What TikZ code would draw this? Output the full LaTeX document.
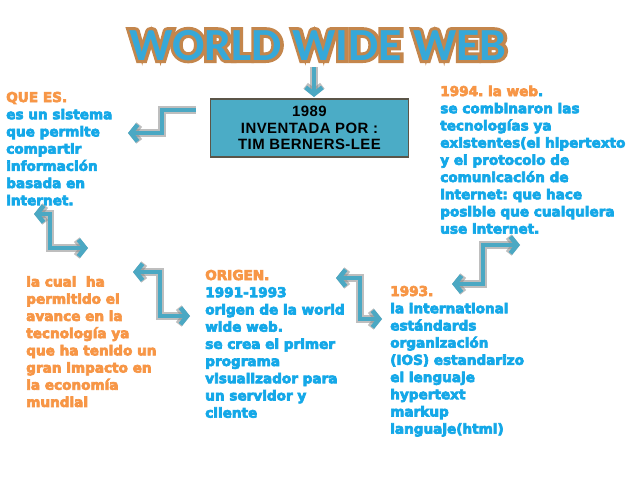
\documentclass[tikz,border=0pt]{standalone}
\usepackage{fontspec}
\usetikzlibrary{arrows.meta}
\newfontfamily\bodyfont{DejaVu Sans Bold}[FakeBold=5]
\newfontfamily\boxfont{Liberation Sans Bold}[LetterSpace=3]
\newfontfamily\titlefont{Carlito Bold}
\newfontfamily\titleoutlinefont{Carlito Bold}[FakeBold=13]
\definecolor{torange}{HTML}{F79646}
\definecolor{tblue}{HTML}{14A8E8}
\definecolor{ttitle}{HTML}{36A8D8}
\definecolor{toutline}{HTML}{C4864C}
\definecolor{boxfill}{HTML}{4BACC6}
\definecolor{boxline}{HTML}{5B5548}
\definecolor{ateal}{HTML}{4BA8C3}
\definecolor{ashadow}{HTML}{8A8A8A}
\frenchspacing
\begin{document}
\begin{tikzpicture}[x=0.75pt,y=-0.75pt,
  txt/.style={anchor=base west, align=left, inner sep=0pt,
    font=\bodyfont\fontsize{10.2}{12.9}\selectfont\frenchspacing, text=tblue},
  arrowback/.style={draw=ashadow, line width=5.4pt, opacity=.55},
  arrowfront/.style={draw=ateal, line width=3.4pt, preaction={arrowback}},
  onehead/.style={-{Straight Barb[length=5pt,width=12.5pt]}},
  twohead/.style={{Straight Barb[length=5pt,width=12.5pt]}-{Straight Barb[length=5pt,width=12.5pt]}}]
\fill[white] (0,0) rectangle (638,479);
\useasboundingbox (0,0) rectangle (638,479);

% title
\node[anchor=base, inner sep=0pt, xscale=1.04, text=ttitle,
  font=\titlefont\fontsize{34.5}{40}\selectfont] (title) at (318,60)
  {\rlap{\titleoutlinefont\color{toutline}WORLD WIDE WEB}WORLD WIDE WEB};

% central box
\node[draw=boxline, fill=boxfill, line width=0.8pt, minimum width=149pt,
  minimum height=43.5pt, align=center, inner sep=0pt,
  font=\boxfont\fontsize{11.2}{12.4}\selectfont] (box) at (309.5,128)
  {1989\\INVENTADA POR :\\TIM BERNERS-LEE};

% text blocks (node position = baseline of the last line)
\node[txt] (quees) at (6,205.2) {\textcolor{torange}{QUE ES.}\\
es un sistema\\que permite\\compartir\\información\\basada en\\internet.};

\node[txt] (web94) at (440,233.6) {\textcolor{torange}{1994. la web}.\\
se combinaron las\\tecnologías ya\\existentes(el hipertexto\\y el protocolo de\\
comunicación de\\internet: que hace\\posible que cualquiera\\use internet.};

\node[txt, text=torange] (cual) at (26,406.9) {la cual\ \ ha\\permitido el\\
avance en la\\tecnología ya\\que ha tenido un\\gran impacto en\\la economía\\mundial};

\node[txt] (origen) at (205,417.6) {\textcolor{torange}{ORIGEN.}\\1991-1993\\
origen de la world\\wide web.\\se crea el primer\\programa\\visualizador para\\
un servidor y\\cliente};

\node[txt] (y93) at (390,433.6) {\textcolor{torange}{1993.}\\la international\\
estándards\\organización\\(IOS) estandarizo\\el lenguaje\\hypertext\\markup\\
languaje(html)};

% arrow end points
\coordinate (a0s) at (314,67);
\coordinate (a0e) at (314,97);
\coordinate (a1s) at (196,110);
\coordinate (a1e) at (128,133);
\coordinate (a2s) at (34,214);
\coordinate (a2e) at (88,248);
\coordinate (a3s) at (133,272);
\coordinate (a3e) at (190,316);
\coordinate (a4s) at (336,278);
\coordinate (a4e) at (382,319);
\coordinate (a5s) at (452,284);
\coordinate (a5e) at (520,245);

% arrows
\draw[arrowfront, onehead] (a0s) -- (a0e);
\draw[arrowfront, onehead] (a1s) -- ++(-34,0) |- (a1e);
\draw[arrowfront, twohead] (a2s) -- ++(16,0) |- (a2e);
\draw[arrowfront, twohead] (a3s) -- ++(27,0) |- (a3e);
\draw[arrowfront, twohead] (a4s) -- ++(24,0) |- (a4e);
\draw[arrowfront, twohead] (a5s) -- ++(31,0) |- (a5e);
\end{tikzpicture}
\end{document}
